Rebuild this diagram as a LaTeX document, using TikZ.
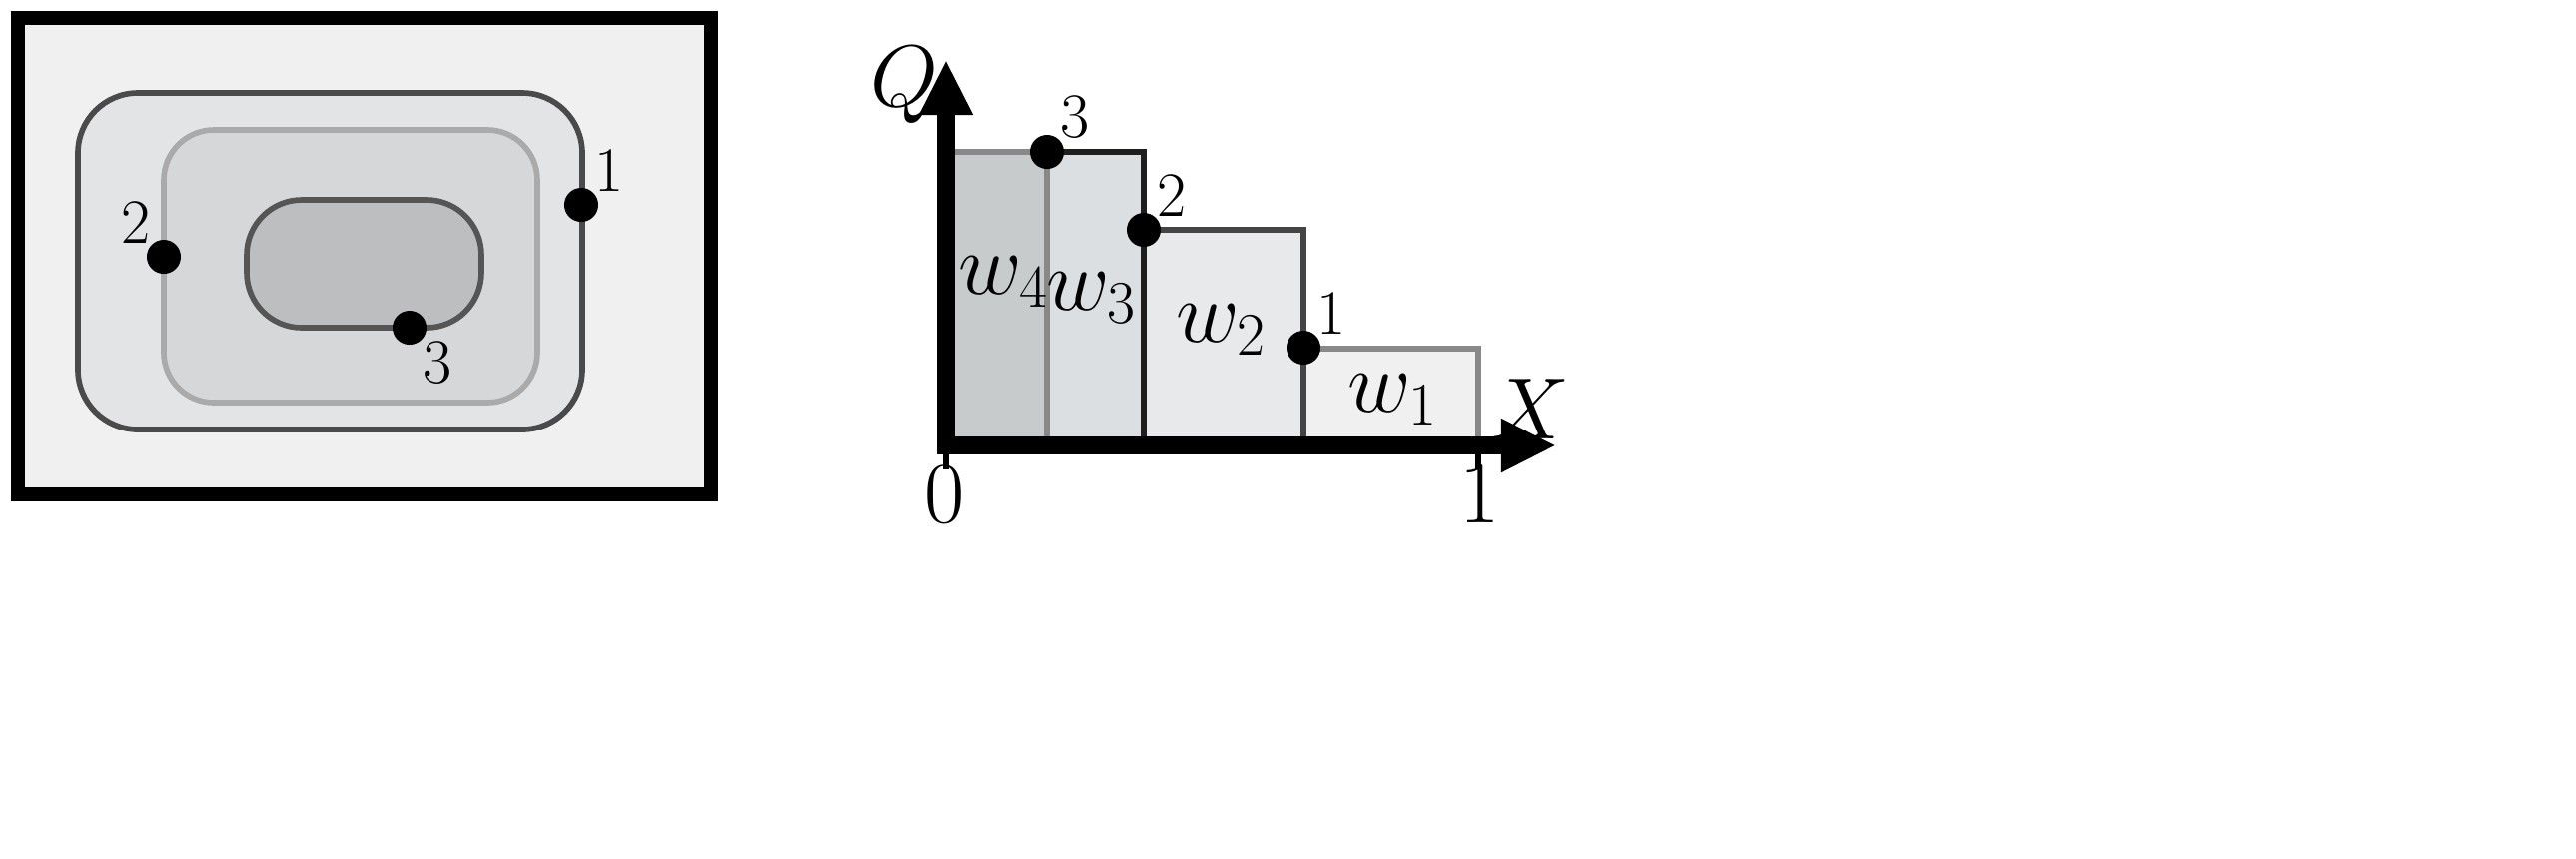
\documentclass[tikz,border=0pt]{standalone}
\usetikzlibrary{arrows.meta}
\definecolor{bgA}{RGB}{240,240,240}
\definecolor{cA}{RGB}{227,228,230}
\definecolor{cB}{RGB}{214,215,217}
\definecolor{cC}{RGB}{189,190,191}
\definecolor{lA}{RGB}{74,74,74}
\definecolor{lB}{RGB}{170,170,170}
\definecolor{lC}{RGB}{85,85,85}
\definecolor{r4}{RGB}{200,203,204}
\definecolor{r3}{RGB}{220,223,225}
\definecolor{r2}{RGB}{232,233,234}
\definecolor{gL}{RGB}{136,136,136}
\definecolor{dL}{RGB}{30,30,30}
\definecolor{mL}{RGB}{68,68,68}
\begin{document}
\begin{tikzpicture}[x=0.01cm,y=-0.01cm,
  dot/.style={circle,fill=black,inner sep=0pt,minimum size=0.34cm},
  big/.style={font=\fontsize{27}{30}\selectfont},
  sm/.style={font=\fontsize{18}{20}\selectfont,inner sep=0pt},
  ax/.style={line width=5pt,-{Triangle[length=0.55cm,width=0.5cm]}}]
\useasboundingbox (0,0) rectangle (2579,859);
% left panel
\draw[line width=4pt,fill=bgA] (18,18) rectangle (712,495);
\draw[line width=1.6pt,draw=lA,fill=cA,rounded corners=0.6cm] (78,93) rectangle (583,430);
\draw[line width=1.6pt,draw=lB,fill=cB,rounded corners=0.5cm] (164,130) rectangle (538,403);
\draw[line width=1.6pt,draw=lC,fill=cC,rounded corners=0.55cm] (247,200) rectangle (482,328);
\node[dot] (p1) at (582,205) {};
\node[sm,anchor=south west] at (p1.north east) {1};
\node[dot] (p2) at (164,257) {};
\node[sm,anchor=south east] at (p2.north west) {2};
\node[dot] (p3) at (410,328) {};
\node[sm,anchor=north west] at (p3.south east) {3};
% right panel
\fill[r4] (947,152) rectangle (1048,446);
\fill[r3] (1048,152) rectangle (1145,446);
\fill[r2] (1145,230) rectangle (1305,446);
\fill[bgA] (1305,349) rectangle (1480,446);
\draw[line width=1.8pt,draw=gL] (947,152) -- (1048,152) (1048,152) -- (1048,446);
\draw[line width=1.8pt,draw=dL] (1048,152) -- (1145,152) -- (1145,446);
\draw[line width=1.8pt,draw=mL] (1145,230) -- (1305,230) -- (1305,446);
\draw[line width=1.8pt,draw=gL] (1305,349) -- (1480,349) -- (1480,446);
\draw[line width=1.5pt] (947,446) -- (947,470) (1480,446) -- (1480,470);
\coordinate (o) at (947,446);
\coordinate (ytip) at (947,60);
\coordinate (xtip) at (1558,446);
\draw[ax] (o) -- (ytip);
\draw[ax] ([xshift=-2.5pt]o) -- (xtip);
\node[big] at (905,85) {$Q$};
\node[big] at (1532,410) {$X$};
\node[big] at (946,495) {$0$};
\node[big] at (1482,495) {$1$};
\node[dot] (q3) at (1048,152) {};
\node[sm,anchor=south west] at (q3.north east) {3};
\node[dot] (q2) at (1145,230) {};
\node[sm,anchor=south west] at (q2.north east) {2};
\node[dot] (q1) at (1305,348) {};
\node[sm,anchor=south west] at (q1.north east) {1};
\node[big] at (1005,282) {$w_4$};
\node[big] at (1093,298) {$w_3$};
\node[big] at (1223,330) {$w_2$};
\node[big] at (1395,400) {$w_1$};
\end{tikzpicture}
\end{document}
